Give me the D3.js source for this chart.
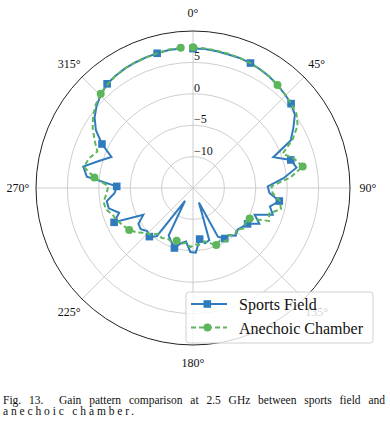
<!DOCTYPE html>
<html lang="en">
<head>
  <meta charset="UTF-8">
  <title>Gain pattern comparison</title>
  <script src="https://d3js.org/d3.v7.min.js"></script>
  <style>
  body {
    margin: 0;
    background: #fff;
  }
  text {
    font-family: "Liberation Serif", "Times New Roman", serif;
    fill: #111;
  }
  .grid {
    fill: none;
    stroke: #c8c8c8;
    stroke-width: 0.9px;
  }
  .caption {
    font-size: 11.5px;
    white-space: pre;
  }
  </style>
</head>
<body>
  <div class="container"></div>
  <script>
  // sample angles (deg, clockwise from top)
  var angles = [0, 4.9, 9.9, 14.8, 19.7, 24.7, 29.6, 34.5, 39.4, 44.4, 49.3, 54.2, 59.2, 64.1, 69, 74,
    78.9, 83.8, 88.8, 93.7, 98.6, 103.5, 108.5, 113.4, 118.3, 123.3, 128.2, 133.1, 138.1, 143, 147.9,
    152.9, 157.8, 162.7, 167.6, 172.6, 177.5, 182.4, 187.4, 192.3, 197.2, 202.2, 207.1, 212, 216.9,
    221.9, 226.8, 231.7, 236.7, 241.6, 246.5, 251.5, 256.4, 261.3, 266.3, 271.2, 276.1, 281, 286,
    290.9, 295.8, 300.8, 305.7, 310.6, 315.6, 320.5, 325.4, 330.4, 335.3, 340.2, 345.1, 350.1, 355];

  // gain in dB
  var sportsField = [7.2, 7.2, 7.1, 7.0, 7.0, 6.9, 6.7, 6.5, 6.2, 5.9, 5.6, 5.0, 3.6, 2.3, -1.3, 1.2,
    1.8, -0.5, -3.1, -2.8, -1.1, -2.4, -1.6, -4.3, -3.0, -4.6, -5.0, -5.3, -4.8, -5.6, -5.5,
    -6.3, -12.5, -6.3, -6.0, -6.8, -4.7, -4.8, -6.4, -6.0, -5.0, -5.8, -6.5, -12.6, -5.4,
    -4.6, -5.0, -4.4, -4.6, -6.0, -1.3, -2.6, -1.2, -1.1, -2.5, -2.85, 2.0, 2.8, 0.6,
    -1.1, 1.1, 3.0, 4.3, 5.2, 5.9, 6.5, 6.7, 6.9, 7.0, 7.1, 7.2, 7.3, 7.3];
  var anechoic = [7.4, 7.3, 7.2, 7.1, 7.0, 6.9, 6.7, 6.5, 6.2, 5.9, 5.6, 5.3, 4.4, 2.6, 0.3, 1.8,
    2.8, 0.6, -2.5, -2.3, -1.0, -0.6, -2.2, -1.8, -4.75, -5.0, -4.6, -5.4, -5.0, -5.6, -5.0,
    -5.6, -5.2, -5.8, -6.3, -5.9, -6.0, -5.6, -6.2, -5.9, -6.2, -5.8, -6.0, -5.6, -5.9,
    -5.0, -4.6, -3.6, -2.85, -2.4, -1.9, -1.5, -0.7, -0.6, -1.2, -1.5, 0.8, 2.7, 2.2,
    1.3, 2.4, 3.6, 4.6, 5.4, 6.0, 6.4, 6.7, 6.9, 7.0, 7.1, 7.2, 7.4, 7.4];

  var radialTicks = [-10, -5, 0, 5];
  var angleTicks = [0, 45, 90, 135, 180, 225, 270, 315];
  var seriesNames = ['Sports Field', 'Anechoic Chamber'];
  var caption = ['Fig. 13.  Gain pattern comparison at 2.5 GHz between sports field and',
                 'anechoic chamber.'];

  var w = 390, h = 425,
      cx = 193, cy = 188, R = 157;
  var blue = '#2f7bbd', green = '#5db65b';

  var rScale = d3.scaleLinear().domain([-15, 10]).range([0, R]);
  var toRad = function(d) { return d * Math.PI / 180; };

  var svg = d3.select('.container').append('svg')
      .attr('width', w).attr('height', h);
  var g = svg.append('g').attr('transform', 'translate(' + cx + ',' + cy + ')');

  // grid rings and spokes
  g.selectAll('.ring').data(radialTicks).enter().append('circle')
    .attr('class', 'grid ring')
    .attr('r', function(d) { return rScale(d); });
  g.selectAll('.spoke').data(angleTicks).enter().append('line')
    .attr('class', 'grid spoke')
    .attr('x1', 0).attr('y1', 0)
    .attr('x2', function(d) { return R * Math.sin(toRad(d)); })
    .attr('y2', function(d) { return -R * Math.cos(toRad(d)); });
  g.append('circle').attr('r', R)
    .style('fill', 'none').style('stroke', '#222').style('stroke-width', 1);

  // radial labels
  g.selectAll('.rlabel').data(radialTicks).enter().append('text')
    .attr('x', 1)
    .attr('y', function(d) { return -rScale(d) - 2; })
    .style('font-size', '12px')
    .text(function(d) { return d < 0 ? '\u2212' + Math.abs(d) : d; });

  // angle labels
  g.selectAll('.alabel').data(angleTicks).enter().append('text')
    .attr('x', function(d) { return 175 * Math.sin(toRad(d)); })
    .attr('y', function(d) { return -175 * Math.cos(toRad(d)); })
    .attr('text-anchor', 'middle')
    .attr('dy', '0.35em')
    .style('font-size', '12px')
    .text(function(d) { return d + '\u00b0'; });

  var radial = d3.lineRadial()
      .angle(function(d) { return toRad(d[0]); })
      .radius(function(d) { return rScale(d[1]); });

  var blueData = angles.map(function(a, i) { return [a, sportsField[i]]; });
  var greenData = angles.map(function(a, i) { return [a, anechoic[i]]; });
  var pos = function(d) {
    return [rScale(d[1]) * Math.sin(toRad(d[0])), -rScale(d[1]) * Math.cos(toRad(d[0]))];
  };

  g.append('path').attr('d', radial(blueData))
    .style('fill', 'none').style('stroke', blue).style('stroke-width', 2)
    .style('stroke-linejoin', 'miter');
  g.selectAll('.sq').data(blueData.filter(function(d, i) { return i % 5 === 0; }))
    .enter().append('rect')
    .attr('x', function(d) { return pos(d)[0] - 3.8; })
    .attr('y', function(d) { return pos(d)[1] - 3.8; })
    .attr('width', 7.6).attr('height', 7.6)
    .style('fill', blue);

  g.append('path').attr('d', radial(greenData))
    .style('fill', 'none').style('stroke', green).style('stroke-width', 2)
    .style('stroke-dasharray', '5,3');
  g.selectAll('.dot').data(greenData.filter(function(d, i) { return i % 8 === 0; }))
    .enter().append('circle')
    .attr('cx', function(d) { return pos(d)[0]; })
    .attr('cy', function(d) { return pos(d)[1]; })
    .attr('r', 4)
    .style('fill', green);

  // legend (semi-transparent, the 135° label shows through like the original)
  var lg = svg.append('g').attr('transform', 'translate(186,292)');
  lg.append('rect').attr('width', 187).attr('height', 51).attr('rx', 3)
    .style('fill', '#fff').style('fill-opacity', 0.8)
    .style('stroke', '#d0d0d0').style('stroke-width', 1);
  var items = lg.selectAll('.item').data(seriesNames).enter().append('g')
    .attr('transform', function(d, i) { return 'translate(0,' + (12 + i * 23.5) + ')'; });
  items.append('line')
    .attr('x1', 5).attr('x2', 41)
    .style('stroke', function(d, i) { return i ? green : blue; })
    .style('stroke-width', 2)
    .style('stroke-dasharray', function(d, i) { return i ? '5,3' : null; });
  items.filter(function(d, i) { return i === 0; }).append('rect')
    .attr('x', 17.5).attr('y', -3.8).attr('width', 7.6).attr('height', 7.6)
    .style('fill', blue);
  items.filter(function(d, i) { return i === 1; }).append('circle')
    .attr('cx', 21.5).attr('r', 4).style('fill', green);
  items.append('text')
    .attr('x', 53).attr('y', 6)
    .style('font-size', '16px')
    .text(function(d) { return d; });

  // caption: first line justified by widening the word gaps,
  // second line spread out the way the scan shows it
  var cap1 = svg.append('text').attr('class', 'caption')
    .attr('x', 3).attr('y', 404)
    .text(caption[0]);
  var natural = cap1.node().getComputedTextLength();
  var gaps = caption[0].split(' ').length - 1;
  cap1.style('word-spacing', ((382 - natural) / gaps) + 'px');
  var cap2 = svg.append('text').attr('class', 'caption')
    .attr('x', 3).attr('y', 415)
    .text(caption[1]);
  var natural2 = cap2.node().getComputedTextLength();
  cap2.style('letter-spacing', ((134 - natural2) / caption[1].length) + 'px');
  </script>
</body>
</html>
